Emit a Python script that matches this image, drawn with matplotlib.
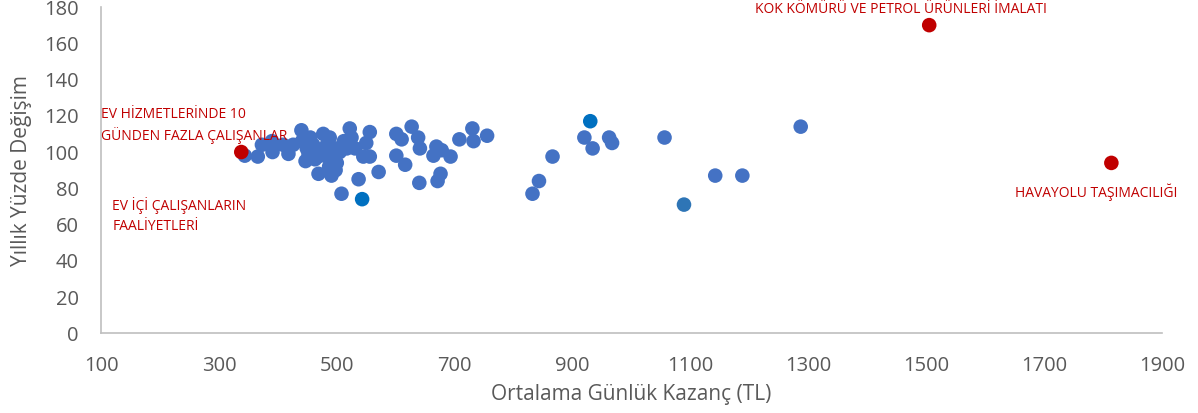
import matplotlib
matplotlib.use("Agg")
import matplotlib.pyplot as plt

# Main series (average daily earnings TL, annual % change)
blue_x = [344, 366, 373, 390, 391, 409, 418, 426, 440, 441, 449, 447, 455, 466, 469,
          477, 483, 486, 491, 497, 500, 508, 517, 522, 525, 531, 537, 550, 556, 545,
          556, 571, 601, 601, 616, 627, 610, 638, 641, 640, 669, 664, 678, 676, 671,
          693, 708, 730, 732, 755, 866, 843, 832, 920, 934, 962, 967, 1056, 1142, 1188,
          1287, 460, 472, 480, 488, 495, 505, 512, 463, 452, 487, 498]
blue_y = [98, 97.5, 104, 106, 100, 104, 99, 104, 112, 106, 102, 95, 108, 100, 88,
          110, 104, 97, 87, 102, 94, 77, 102, 113, 108, 102, 85, 105, 111, 97.5,
          97.5, 89, 110, 98, 93, 114, 107, 108, 102, 83, 103, 98, 101, 88, 84,
          97.5, 107, 113, 106, 109, 97.5, 84, 77, 108, 102, 108, 105, 108, 87, 87,
          114, 104, 98, 100, 108, 98, 100, 106, 96, 99, 92, 90]

dark_x = [930, 543]
dark_y = [117, 74]

mid_x = [1089]
mid_y = [71]

red_x = [338, 1505, 1814]
red_y = [100, 170, 94]
red_labels = ["EV HİZMETLERİNDE 10\nGÜNDEN FAZLA ÇALIŞANLAR",
              "KOK KÖMÜRÜ VE PETROL ÜRÜNLERİ İMALATI",
              "HAVAYOLU TAŞIMACILIĞI"]
extra_label = "EV İÇİ ÇALIŞANLARIN\nFAALİYETLERİ"

x_ticks = [100, 300, 500, 700, 900, 1100, 1300, 1500, 1700, 1900]
y_ticks = [0, 20, 40, 60, 80, 100, 120, 140, 160, 180]

plt.rcParams['font.family'] = ['Open Sans', 'DejaVu Sans']

fig = plt.figure(figsize=(11.98, 4.13), dpi=100)
ax = fig.add_axes([0.0843, 0.193, 0.8857, 0.790])

ms = 110
ax.scatter(blue_x, blue_y, s=ms, color='#4472C4', edgecolors='none', zorder=3)
ax.scatter(mid_x, mid_y, s=ms, color='#2E75B6', edgecolors='none', zorder=3)
ax.scatter(dark_x, dark_y, s=ms, color='#0070C0', edgecolors='none', zorder=4)
ax.scatter(red_x, red_y, s=ms, color='#C00000', edgecolors='none', zorder=5)

red_txt = '#C00000'
fs_ann = 10
ax.text(100, 114.8, red_labels[0], color=red_txt, fontsize=fs_ann, ha='left', va='center',
        linespacing=1.4, zorder=6)
ax.text(1457, 178.5, red_labels[1], color=red_txt, fontsize=fs_ann, ha='center', va='center', zorder=6)
ax.text(1788, 78, red_labels[2], color=red_txt, fontsize=fs_ann, ha='center', va='center', zorder=6)
ax.text(119, 65, extra_label, color=red_txt, fontsize=fs_ann, ha='left', va='center',
        linespacing=1.4, zorder=6)

ax.set_xlim(100, 1900)
ax.set_ylim(0, 180)
ax.set_xticks(x_ticks)
ax.set_yticks(y_ticks)

for s in ['top', 'right']:
    ax.spines[s].set_visible(False)
for s in ['left', 'bottom']:
    ax.spines[s].set_color('#BFBFBF')
    ax.spines[s].set_linewidth(1.2)

ax.tick_params(axis='both', length=0, labelsize=14.5, labelcolor='#595959')
ax.tick_params(axis='y', pad=16)
ax.tick_params(axis='x', pad=16)

ax.set_xlabel('Ortalama Günlük Kazanç (TL)', fontsize=15, color='#595959', labelpad=6)
ax.set_ylabel('Yıllık Yüzde Değişim', fontsize=15, color='#595959', labelpad=8.5)

fig.savefig('out.png', dpi=100)
